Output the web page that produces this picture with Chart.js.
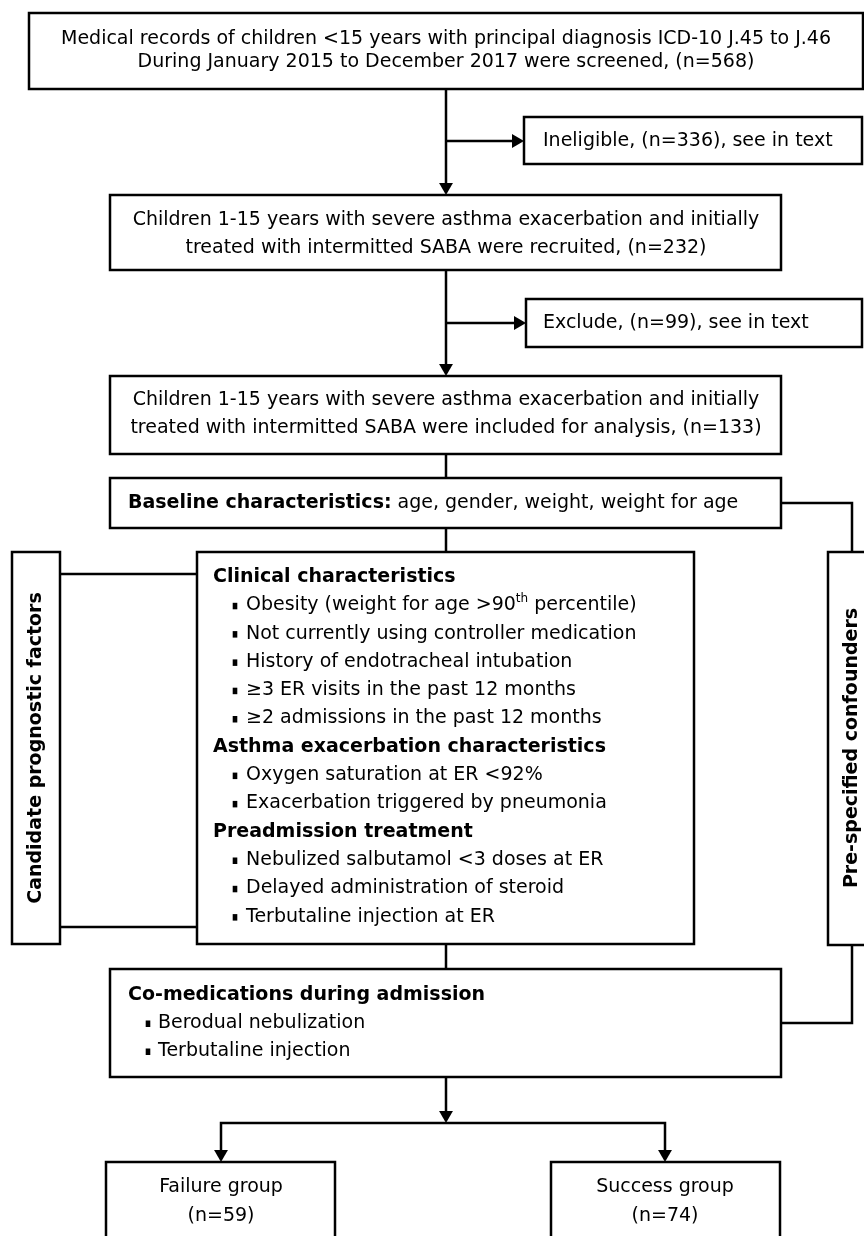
<!DOCTYPE html>
<html lang="en">
<head>
    <meta charset="UTF-8">
    <title>Study flow diagram</title>
    <script src="https://cdn.jsdelivr.net/npm/chart.js"></script>
    <style>
        body { margin: 0; background: #fff; }
        canvas { display: block; }
    </style>
</head>
<body>
    <canvas id="flowChart" width="864" height="1236"></canvas>

    <script>
        // Text of the flow diagram
        const screenedText = [
            'Medical records of children <15 years with principal diagnosis ICD-10 J.45 to J.46',
            'During January 2015 to December 2017 were screened, (n=568)'
        ];
        const ineligibleText = 'Ineligible, (n=336), see in text';
        const recruitedText = [
            'Children 1-15 years with severe asthma exacerbation and initially',
            'treated with intermitted SABA were recruited, (n=232)'
        ];
        const excludedText = 'Exclude, (n=99), see in text';
        const includedText = [
            'Children 1-15 years with severe asthma exacerbation and initially',
            'treated with intermitted SABA were included for analysis, (n=133)'
        ];
        const baselineHead = 'Baseline characteristics:';
        const baselineItems = 'age, gender, weight, weight for age';
        const clinicalHead = 'Clinical characteristics';
        const clinicalItems = [
            'Obesity (weight for age >90^th percentile)',
            'Not currently using controller medication',
            'History of endotracheal intubation',
            '\u22653 ER visits in the past 12 months',
            '\u22652 admissions in the past 12 months'
        ];
        const exacerbationHead = 'Asthma exacerbation characteristics';
        const exacerbationItems = [
            'Oxygen saturation at ER <92%',
            'Exacerbation triggered by pneumonia'
        ];
        const treatmentHead = 'Preadmission treatment';
        const treatmentItems = [
            'Nebulized salbutamol <3 doses at ER',
            'Delayed administration of steroid',
            'Terbutaline injection at ER'
        ];
        const comedHead = 'Co-medications during admission';
        const comedItems = ['Berodual nebulization', 'Terbutaline injection'];
        const groupNames = ['Failure group', 'Success group'];
        const groupCounts = [59, 74];
        const sideLabels = ['Candidate prognostic factors', 'Pre-specified confounders'];

        // Layout (chart units = pixels, y grows downwards)
        const boxes = [
            { x0: 29, x1: 863, y0: 13, y1: 89 },     // screened
            { x0: 524, x1: 862, y0: 117, y1: 164 },  // ineligible
            { x0: 110, x1: 781, y0: 195, y1: 270 },  // recruited
            { x0: 526, x1: 862, y0: 299, y1: 347 },  // excluded
            { x0: 110, x1: 781, y0: 376, y1: 454 },  // included
            { x0: 110, x1: 781, y0: 478, y1: 528 },  // baseline
            { x0: 197, x1: 694, y0: 552, y1: 944 },  // clinical etc
            { x0: 12, x1: 60, y0: 552, y1: 944 },    // candidate label
            { x0: 828, x1: 878, y0: 552, y1: 945 },  // confounder label
            { x0: 110, x1: 781, y0: 969, y1: 1077 }, // co-medications
            { x0: 106, x1: 335, y0: 1162, y1: 1260 },// failure
            { x0: 551, x1: 780, y0: 1162, y1: 1260 } // success
        ];
        const connectorPaths = [
            [[446, 89], [446, 190]],
            [[446, 141], [518, 141]],
            [[446, 270], [446, 371]],
            [[446, 323], [520, 323]],
            [[446, 454], [446, 478]],
            [[446, 528], [446, 552]],
            [[781, 503], [852, 503], [852, 552]],
            [[60, 574], [197, 574]],
            [[60, 927], [197, 927]],
            [[446, 944], [446, 969]],
            [[852, 945], [852, 1023], [781, 1023]],
            [[446, 1077], [446, 1116]],
            [[221, 1157], [221, 1123], [665, 1123], [665, 1157]]
        ];
        const arrowTips = [
            { x: 446, y: 195, dir: 'down' },
            { x: 524, y: 141, dir: 'right' },
            { x: 446, y: 376, dir: 'down' },
            { x: 526, y: 323, dir: 'right' },
            { x: 446, y: 1123, dir: 'down' },
            { x: 221, y: 1162, dir: 'down' },
            { x: 665, y: 1162, dir: 'down' }
        ];
        const ARROW_R = 8;
        const FONT = '"DejaVu Sans", Verdana, sans-serif';
        const FS = 19;

        // build text items
        const textItems = [];
        function addLines(lines, x, y0, step, opts) {
            lines.forEach((t, i) => textItems.push(Object.assign({ text: t, x: x, y: y0 + i * step }, opts)));
        }
        addLines(screenedText, 446, 39, 23, { align: 'center' });
        addLines([ineligibleText], 543, 141, 0, { align: 'left' });
        addLines(recruitedText, 446, 220, 28, { align: 'center' });
        addLines([excludedText], 543, 323, 0, { align: 'left' });
        addLines(includedText, 446, 400, 28, { align: 'center' });
        textItems.push({ text: baselineHead, tail: baselineItems, x: 128, y: 503, align: 'left', bold: true });

        const clinicalRows = [].concat(
            [{ text: clinicalHead, bold: true }], clinicalItems.map(t => ({ text: t, bullet: true })),
            [{ text: exacerbationHead, bold: true }], exacerbationItems.map(t => ({ text: t, bullet: true })),
            [{ text: treatmentHead, bold: true }], treatmentItems.map(t => ({ text: t, bullet: true }))
        );
        clinicalRows.forEach((r, i) => {
            textItems.push(Object.assign(r, { x: r.bullet ? 246 : 213, bx: 235, y: 577 + i * 28.3, align: 'left' }));
        });
        const comedRows = [{ text: comedHead, bold: true }].concat(comedItems.map(t => ({ text: t, bullet: true })));
        comedRows.forEach((r, i) => {
            textItems.push(Object.assign(r, { x: r.bullet ? 158 : 128, bx: 148, y: 995 + i * 28, align: 'left' }));
        });
        [221, 665].forEach((cx, i) => {
            addLines([groupNames[i], '(n=' + groupCounts[i] + ')'], cx, 1187, 29, { align: 'center' });
        });
        textItems.push({ text: sideLabels[0], x: 36, y: 748, align: 'center', bold: true, rotate: true });
        textItems.push({ text: sideLabels[1], x: 852, y: 748, align: 'center', bold: true, rotate: true });

        function setFont(ctx, bold, size) {
            ctx.font = (bold ? 'bold ' : '') + (size || FS) + 'px ' + FONT;
        }

        // draws "abc^th def" with a raised superscript part
        function drawRich(ctx, text, x, y, align, bold) {
            const parts = text.split(/\^(\w+)/);
            let widths = parts.map((p, i) => {
                setFont(ctx, bold, i % 2 ? 12 : FS);
                return ctx.measureText(p).width;
            });
            const total = widths.reduce((a, b) => a + b, 0);
            let cx = align === 'center' ? x - total / 2 : x;
            ctx.textAlign = 'left';
            parts.forEach((p, i) => {
                setFont(ctx, bold, i % 2 ? 12 : FS);
                ctx.fillText(p, cx, i % 2 ? y - 6 : y);
                cx += widths[i];
            });
            return cx;
        }

        const flowPlugin = {
            id: 'flowBoxes',
            beforeDatasetsDraw(chart) {
                const { ctx, scales: { x, y } } = chart;
                ctx.save();
                ctx.lineWidth = 2.5;
                ctx.strokeStyle = '#000';
                ctx.fillStyle = '#fff';
                boxes.forEach(b => {
                    const l = x.getPixelForValue(b.x0), r = x.getPixelForValue(b.x1);
                    const t = y.getPixelForValue(b.y0), bt = y.getPixelForValue(b.y1);
                    ctx.fillRect(l, t, r - l, bt - t);
                    ctx.strokeRect(l, t, r - l, bt - t);
                });
                ctx.restore();
            },
            afterDatasetsDraw(chart) {
                const { ctx, scales: { x, y } } = chart;
                ctx.save();
                ctx.fillStyle = '#000';
                ctx.textBaseline = 'middle';
                textItems.forEach(it => {
                    const px = x.getPixelForValue(it.x), py = y.getPixelForValue(it.y);
                    if (it.rotate) {
                        ctx.save();
                        ctx.translate(px, py);
                        ctx.rotate(-Math.PI / 2);
                        setFont(ctx, true);
                        ctx.textAlign = 'center';
                        ctx.fillText(it.text, 0, 0);
                        ctx.restore();
                        return;
                    }
                    if (it.bullet) {
                        const bx = x.getPixelForValue(it.bx);
                        ctx.fillRect(bx - 2.3, py - 2.5, 4.6, 6.5);
                    }
                    const end = drawRich(ctx, it.text, px, py, it.align, it.bold);
                    if (it.tail) {
                        setFont(ctx, false);
                        ctx.fillText(' ' + it.tail, end, py);
                    }
                });
                ctx.restore();
            }
        };

        const connectorSets = connectorPaths.map(path => ({
            data: path.map(p => ({ x: p[0], y: p[1] })),
            showLine: true,
            borderColor: '#000',
            borderWidth: 2.5,
            pointRadius: 0,
            tension: 0,
            clip: false
        }));
        const arrowSet = {
            data: arrowTips.map(a => a.dir === 'down'
                ? { x: a.x, y: a.y - ARROW_R }
                : { x: a.x - ARROW_R, y: a.y }),
            showLine: false,
            pointStyle: 'triangle',
            pointRadius: ARROW_R,
            pointRotation: arrowTips.map(a => a.dir === 'down' ? 180 : 90),
            pointBackgroundColor: '#000',
            pointBorderWidth: 0,
            clip: false
        };

        const ctx = document.getElementById('flowChart').getContext('2d');
        const flowChart = new Chart(ctx, {
            type: 'scatter',
            data: { datasets: connectorSets.concat([arrowSet]) },
            options: {
                responsive: false,
                animation: false,
                events: [],
                layout: { padding: 0, autoPadding: false },
                scales: {
                    x: { type: 'linear', min: 0, max: 864, display: false },
                    y: { type: 'linear', min: 0, max: 1236, reverse: true, display: false }
                },
                plugins: { legend: { display: false }, tooltip: { enabled: false } }
            },
            plugins: [flowPlugin]
        });
    </script>
</body>
</html>
